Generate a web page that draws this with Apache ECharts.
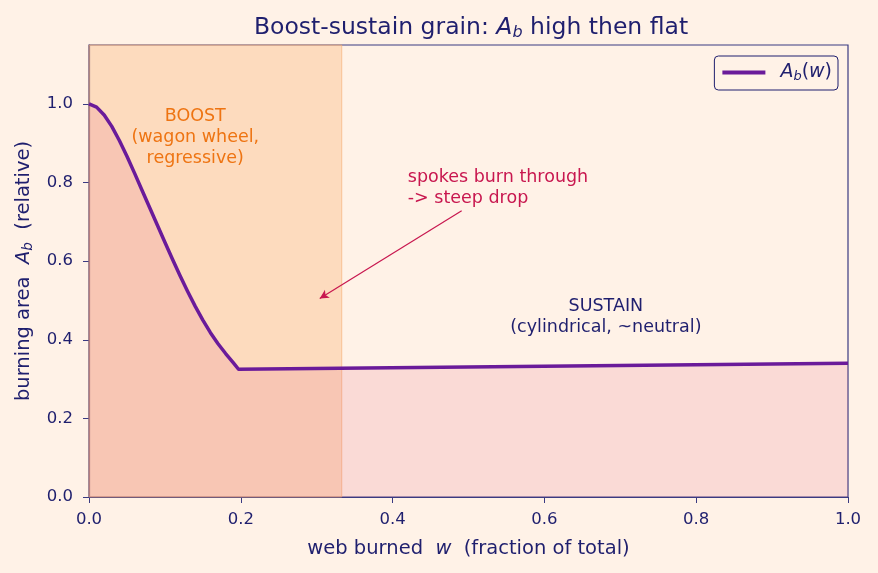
<!DOCTYPE html>
<html>
<head>
<meta charset="utf-8">
<script src="https://cdn.jsdelivr.net/npm/echarts@6/dist/echarts.min.js"></script>
<style>
  html, body { margin: 0; padding: 0; background: #fff2e7; }
  #chart { width: 878px; height: 573px; }
</style>
</head>
<body>
<div id="chart"></div>
<script>
  // burning area vs web burned
  const webBurned = [0, 0.01, 0.02, 0.03, 0.04, 0.05, 0.06, 0.07, 0.08, 0.09, 0.10,
    0.11, 0.12, 0.13, 0.14, 0.15, 0.16, 0.17, 0.18, 0.19, 0.197, 1.0];
  const burnArea = [1.0, 0.992, 0.972, 0.943, 0.907, 0.867, 0.824, 0.780, 0.736, 0.692, 0.648,
    0.605, 0.563, 0.523, 0.485, 0.450, 0.418, 0.390, 0.365, 0.342, 0.325, 0.34];
  const boostSpan = [0, 0.333];
  const xTicks = [0, 0.2, 0.4, 0.6, 0.8, 1.0];
  const yTicks = [0, 0.2, 0.4, 0.6, 0.8, 1.0];

  const navy = '#1f1f6e';
  const font = 'DejaVu Sans';

  const myChart = echarts.init(document.getElementById('chart'));
  const curve = webBurned.map((w, i) => [w, burnArea[i]]);

  const options = {
    backgroundColor: '#fff2e7',
    textStyle: { fontFamily: font, color: navy },
    title: {
      text: '{t|Boost-sustain grain: }{i|A}{s|b}{t| high then flat}',
      left: 466,
      top: 10,
      textAlign: 'center',
      textStyle: {
        fontWeight: 'normal',
        rich: {
          t: { fontSize: 23.5, color: navy, fontFamily: font, fontWeight: 'normal' },
          i: { fontSize: 23.5, color: navy, fontFamily: font, fontStyle: 'italic', fontWeight: 'normal' },
          s: { fontSize: 16, color: navy, fontFamily: font, fontStyle: 'italic', fontWeight: 'normal', padding: [10, 0, 0, 0] }
        }
      }
    },
    legend: {
      right: 40,
      top: 56,
      data: ['Ab'],
      borderColor: navy,
      borderWidth: 1,
      borderRadius: 4,
      padding: [7, 6, 7, 8],
      backgroundColor: '#fff2e7',
      icon: 'rect',
      itemWidth: 43,
      itemHeight: 4,
      itemGap: 10,
      formatter: () => '{i|A}{s|b}{t|(}{i|w}{t|)}',
      textStyle: {
        padding: [0, 0, 0, 10],
        rich: {
          t: { fontSize: 19, color: navy, fontFamily: font },
          i: { fontSize: 19, color: navy, fontFamily: font, fontStyle: 'italic' },
          s: { fontSize: 13, color: navy, fontFamily: font, fontStyle: 'italic', padding: [8, 0, 0, 0] }
        }
      }
    },
    grid: {
      left: 89,
      right: 30,
      top: 45,
      bottom: 76,
      show: true,
      borderColor: '#3a3a82',
      borderWidth: 1.2,
      backgroundColor: 'transparent'
    },
    xAxis: {
      type: 'value',
      min: 0,
      max: 1,
      interval: 0.2,
      name: 'web burned  {i|w}  (fraction of total)',
      nameLocation: 'middle',
      nameGap: 42,
      nameTextStyle: {
        fontSize: 19.5,
        color: navy,
        rich: { i: { fontSize: 19.5, color: navy, fontStyle: 'italic', fontFamily: font } }
      },
      axisLine: { show: true, lineStyle: { color: '#3a3a82', width: 1.2 } },
      axisTick: { show: true, length: 6, lineStyle: { color: '#3a3a82' } },
      axisLabel: {
        fontSize: 16.5,
        color: navy,
        margin: 14,
        formatter: v => xTicks.some(t => Math.abs(t - v) < 1e-6) ? v.toFixed(1) : ''
      },
      splitLine: { show: false }
    },
    yAxis: {
      type: 'value',
      min: 0,
      max: 1.15,
      interval: 0.2,
      name: 'burning area  {i|A}{s|b}  (relative)',
      nameLocation: 'middle',
      nameGap: 53,
      nameRotate: 90,
      nameTextStyle: {
        fontSize: 19.5,
        color: navy,
        rich: {
          i: { fontSize: 19.5, color: navy, fontStyle: 'italic', fontFamily: font },
          s: { fontSize: 13.5, color: navy, fontStyle: 'italic', fontFamily: font, padding: [9, 0, 0, 0] }
        }
      },
      axisLine: { show: true, lineStyle: { color: '#3a3a82', width: 1.2 } },
      axisTick: { show: true, length: 6, lineStyle: { color: '#3a3a82' } },
      axisLabel: {
        fontSize: 16.5,
        color: navy,
        margin: 16,
        showMaxLabel: false,
        formatter: v => yTicks.some(t => Math.abs(t - v) < 1e-6) ? v.toFixed(1) : ''
      },
      splitLine: { show: false }
    },
    series: [
      {
        name: 'Ab',
        type: 'line',
        data: curve,
        showSymbol: false,
        symbol: 'none',
        lineStyle: { color: '#6a1b9a', width: 3.5, join: 'round' },
        itemStyle: { color: '#6a1b9a' },
        areaStyle: { color: 'rgba(225, 85, 125, 0.22)', origin: 'start' },
        z: 3,
        markArea: {
          silent: true,
          itemStyle: {
            color: 'rgba(250, 190, 140, 0.45)',
            borderColor: 'rgba(245, 170, 110, 0.6)',
            borderWidth: 1
          },
          data: [[{ xAxis: boostSpan[0] }, { xAxis: boostSpan[1] }]]
        },
        markLine: {
          silent: true,
          symbol: ['none', 'arrow'],
          symbolSize: [7, 9],
          label: { show: false },
          lineStyle: { color: '#c8174f', width: 1.2, type: 'solid' },
          data: [[{ coord: [0.491, 0.728] }, { coord: [0.304, 0.505] }]]
        }
      },
      {
        name: 'notes',
        type: 'scatter',
        symbolSize: 0,
        silent: true,
        itemStyle: { opacity: 1 },
        z: 5,
        data: [
          {
            value: [0.14, 0.914],
            label: {
              show: true, position: 'inside', align: 'center', lineHeight: 21,
              fontSize: 17.5, color: '#ee7412', fontFamily: font,
              formatter: 'BOOST\n(wagon wheel,\nregressive)'
            }
          },
          {
            value: [0.681, 0.457],
            label: {
              show: true, position: 'inside', align: 'center', lineHeight: 21,
              fontSize: 17.5, color: navy, fontFamily: font,
              formatter: 'SUSTAIN\n(cylindrical, ~neutral)'
            }
          },
          {
            value: [0.42, 0.787],
            label: {
              show: true, position: 'inside', align: 'left', lineHeight: 21,
              fontSize: 17.5, color: '#c8174f', fontFamily: font,
              formatter: 'spokes burn through\n-> steep drop'
            }
          }
        ]
      }
    ]
  };
  myChart.setOption(options);
</script>
</body>
</html>
